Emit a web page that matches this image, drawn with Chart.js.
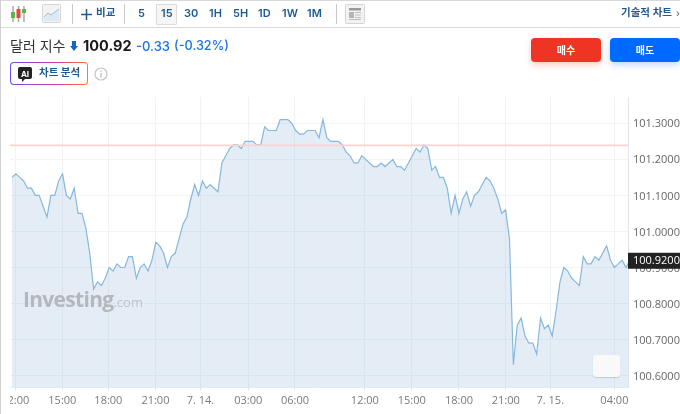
<!DOCTYPE html>
<html lang="ko">
<head>
<meta charset="utf-8">
<script src="https://cdn.jsdelivr.net/npm/chart.js@4"></script>
<style>
html,body{margin:0;padding:0;background:#fff;width:680px;height:414px;overflow:hidden;font-family:Inter,"Noto Sans CJK KR",sans-serif}
canvas{position:absolute;left:0;top:0}
.a{position:absolute;white-space:nowrap;line-height:1}
.tb{color:#1d5a92;font-weight:600;font-size:11px;top:8px}
.sep{position:absolute;width:1px;background:#c9c9c9;top:4px;height:20px}
.btn{position:absolute;top:38px;width:70px;height:24px;border-radius:4px;color:#fff;font-weight:700;font-size:10px;text-align:center;line-height:24px}
</style>
</head>
<body>
<canvas id="c" width="680" height="414"></canvas>

<div class="a" style="left:0;top:0;width:680px;height:1px;background:#d8d8d8"></div>
<div class="a" style="left:0;top:27px;width:680px;height:1px;background:#d8d8d8"></div>
<div class="a" style="left:0;top:0;width:1px;height:414px;background:#d0d0d0"></div>
<div class="a" style="left:1px;top:388px;width:9px;height:26px;background:#fff"></div>

<svg class="a" style="left:10px;top:6px" width="18" height="16" viewBox="0 0 18 16">
<path d="M3 0v16M8.500 0v16M14 0v16" stroke="#a9a9a9" stroke-width="1.500"/>
<rect x="1" y="6" width="4" height="6" fill="#57b947"/><rect x="6.500" y="3" width="4" height="9" fill="#e8483a"/><rect x="12" y="3" width="4" height="4" fill="#57b947"/>
</svg>
<svg class="a" style="left:42px;top:4px" width="19" height="19" viewBox="0 0 19 19">
<rect x="0.500" y="0.500" width="18" height="18" rx="1" fill="#f3f3f3" stroke="#d5d5d5"/>
<path d="M2 13l4-4 3 2 4-3 4-3v12H2z" fill="#dfe9f3"/><path d="M2 13l4-4 3 2 4-3 4-3" fill="none" stroke="#9dbbd8"/>
</svg>
<div class="sep" style="left:72px"></div>
<svg class="a" style="left:81px;top:9px" width="11" height="11"><path d="M5.500 0v11M0 5.500h11" stroke="#1d5a92" stroke-width="1.500"/></svg>
<div class="a tb" style="left:96px;font-size:10.500px">비교</div>
<div class="sep" style="left:124px"></div>
<div class="a" style="left:156px;top:4px;width:19px;height:19px;background:#f6f6f6;border:1px solid #dcdcdc;border-radius:1px"></div>
<div class="a tb" style="left:138px">5</div>
<div class="a tb" style="left:161px">15</div>
<div class="a tb" style="left:184px">30</div>
<div class="a tb" style="left:209px">1H</div>
<div class="a tb" style="left:233px">5H</div>
<div class="a tb" style="left:258px">1D</div>
<div class="a tb" style="left:282px">1W</div>
<div class="a tb" style="left:307px">1M</div>
<div class="sep" style="left:336px"></div>
<svg class="a" style="left:345px;top:4px" width="20" height="20" viewBox="0 0 20 20">
<rect x="0.500" y="0.500" width="19" height="19" rx="1" fill="#f3f3f3" stroke="#d5d5d5"/>
<rect x="4" y="4" width="12" height="2.500" fill="#9a9a9a"/><rect x="4" y="8" width="5" height="6" fill="#b5b5b5"/>
<path d="M10 8.500h6M10 11h6M10 13.500h6M4 15.500h12" stroke="#bdbdbd"/>
</svg>
<div class="a tb" style="left:621px;font-size:10.500px">기술적 차트</div>
<div class="a" style="left:676px;top:8px;font-size:10px;color:#555">›</div>

<div class="a" style="left:10px;top:39px;font-size:14px;color:#333">달러 지수</div>
<svg class="a" style="left:70px;top:41px" width="8" height="10"><path d="M2 0h4v5h2L4 10 0 5h2z" fill="#1264c8"/></svg>
<div class="a" style="left:83px;top:39px;font-size:14.500px;font-weight:700;color:#1a1a1a">100.92</div>
<div class="a" style="left:136px;top:39.500px;font-size:13px;font-weight:500;color:#1a73e8">-0.33</div>
<div class="a" style="left:174px;top:39.500px;font-size:12.700px;font-weight:500;color:#1a73e8">(-0.32%)</div>

<div class="a" style="left:10px;top:62px;width:78px;height:23px;border-radius:4px;padding:1px;box-sizing:border-box;background:linear-gradient(90deg,#6a4cf5,#c93cb0 55%,#ff7a1a)">
<div style="width:100%;height:100%;background:#fff;border-radius:3px"></div></div>
<svg class="a" style="left:18px;top:67px" width="14" height="15" viewBox="0 0 14 15"><path d="M2 0h10a2 2 0 0 1 2 2v8a2 2 0 0 1-2 2H7l-3 3v-3H2a2 2 0 0 1-2-2V2a2 2 0 0 1 2-2z" fill="#222"/></svg>
<div class="a" style="left:18px;top:69.500px;width:14px;color:#fff;font-size:8px;font-weight:700;text-align:center">AI</div>
<div class="a" style="left:39px;top:68px;font-size:10.500px;font-weight:700;color:#1d5a92">차트 분석</div>
<svg class="a" style="left:94px;top:67px" width="14" height="14"><circle cx="7" cy="7" r="6" fill="none" stroke="#c4c4c4" stroke-width="1.200"/><path d="M7 6v4.500M7 3.500v1.300" stroke="#bdbdbd" stroke-width="1.300"/></svg>

<div class="btn" style="left:531px;background:#ee3524;box-shadow:0 3px 6px rgba(238,53,36,.25)">매수</div>
<div class="btn" style="left:610px;background:#0069ff;box-shadow:0 3px 6px rgba(0,105,255,.25)">매도</div>

<div class="a" style="left:23px;top:289px;font-family:'Open Sans',sans-serif;font-size:21px;font-weight:700;color:#b4b8bc;letter-spacing:-0.700px">Investing<span style="font-size:13px;font-weight:400;letter-spacing:0;color:#bfc3c7">.com</span></div>
<div class="a" style="left:593px;top:355px;width:27px;height:22px;background:#f9f9f9;border-radius:3px;box-shadow:0 1px 1px rgba(0,0,0,.15)"></div>

<script>
const prices = [101.15,101.16,101.15,101.14,101.12,101.12,101.10,101.10,101.07,101.04,
101.10,101.10,101.14,101.16,101.10,101.09,101.12,101.05,101.05,101.01,
100.94,100.84,100.86,100.85,100.87,100.90,100.89,100.91,100.90,100.90,
100.93,100.93,100.87,100.90,100.91,100.89,100.92,100.97,100.96,100.94,
100.90,100.93,100.94,100.98,101.02,101.04,101.09,101.13,101.10,101.14,
101.12,101.13,101.12,101.11,101.19,101.21,101.23,101.24,101.24,101.23,
101.25,101.25,101.25,101.24,101.24,101.29,101.28,101.28,101.28,101.31,
101.31,101.31,101.30,101.28,101.27,101.27,101.28,101.28,101.28,101.26,
101.31,101.26,101.25,101.25,101.25,101.24,101.22,101.21,101.19,101.19,
101.21,101.20,101.19,101.18,101.18,101.19,101.18,101.19,101.20,101.18,
101.18,101.17,101.19,101.21,101.23,101.22,101.24,101.23,101.17,101.18,
101.15,101.15,101.12,101.05,101.10,101.05,101.09,101.11,101.07,101.10,
101.11,101.13,101.15,101.14,101.12,101.09,101.05,101.06,100.98,100.63,
100.74,100.76,100.71,100.69,100.69,100.66,100.76,100.73,100.74,100.71,
100.78,100.86,100.90,100.89,100.87,100.86,100.85,100.93,100.91,100.91,
100.93,100.92,100.94,100.96,100.92,100.90,100.91,100.92,100.90,100.92];
const xTickPositions = [0.85,12.95,24.8,36.9,48.5,60.8,72.8,90.8,102.85,115,127.05,138.5,155];
const xTickLabels = ["12:00","15:00","18:00","21:00","7. 14.","03:00","06:00","12:00","15:00","18:00","21:00","7. 15.","04:00"];
const yTickValues = [100.6,100.7,100.8,100.9,101.0,101.1,101.2,101.3];
const refLevel = 101.239;
const lastPrice = 100.92;
const xMin = -0.515, xMax = 158.5, yMin = 100.567, yMax = 101.373;

const priceTag = {
  id:'priceTag',
  afterDraw(chart){
    const y = chart.scales.y, g = chart.ctx, p = y.getPixelForValue(lastPrice);
    g.save();
    g.fillStyle = '#222';
    g.fillRect(628, p-7.500, 52, 16);
    g.fillStyle = '#fff';
    g.font = '500 11px "Open Sans", sans-serif';
    g.textBaseline = 'middle';
    g.textAlign = 'left';
    g.fillText(lastPrice.toFixed(4), 633, p+1);
    g.restore();
  }
};

new Chart(document.getElementById('c'), {
  type:'line',
  data:{datasets:[
    {data:prices.map((v,i)=>({x:i,y:v})),borderColor:'#86b8dd',borderWidth:1.200,fill:'start',
     backgroundColor:'rgba(118,163,203,0.2)',pointRadius:0,tension:0,order:2},
    {data:[{x:xMin,y:refLevel},{x:xMax,y:refLevel}],borderColor:'#fbd2d2',borderWidth:1.800,pointRadius:0,fill:false,order:1}
  ]},
  options:{
    responsive:false,animation:false,
    layout:{padding:{left:10,top:97,right:0,bottom:0}},
    plugins:{legend:{display:false},tooltip:{enabled:false}},
    scales:{
      x:{type:'linear',min:xMin,max:xMax,
        afterBuildTicks(s){s.ticks=xTickPositions.map(v=>({value:v}));},
        afterFit(s){s.height=26.500;s.paddingLeft=0;s.paddingRight=0;},
        grid:{color:'#f0f3f6',lineWidth:1,tickLength:3,tickColor:'#dfe5ec'},
        border:{color:'#e6ebf1'},
        ticks:{autoSkip:false,maxRotation:0,padding:4,color:'#7a7a7a',font:{family:'"Open Sans",sans-serif',size:11},
          callback:(v,i)=>xTickLabels[i]}
      },
      y:{type:'linear',position:'right',min:yMin,max:yMax,
        afterBuildTicks(s){s.ticks=yTickValues.map(v=>({value:v}));},
        afterFit(s){s.width=52;s.paddingTop=0;s.paddingBottom=0;},
        grid:{color:'#f2f4f7',lineWidth:1,drawTicks:false},
        border:{color:'#dfe5ee'},
        ticks:{autoSkip:false,padding:5,labelOffset:1,color:'#666',font:{family:'"Open Sans",sans-serif',size:11},
          callback:v=>v.toFixed(4)}
      }
    }
  },
  plugins:[priceTag]
});
</script>
</body>
</html>
